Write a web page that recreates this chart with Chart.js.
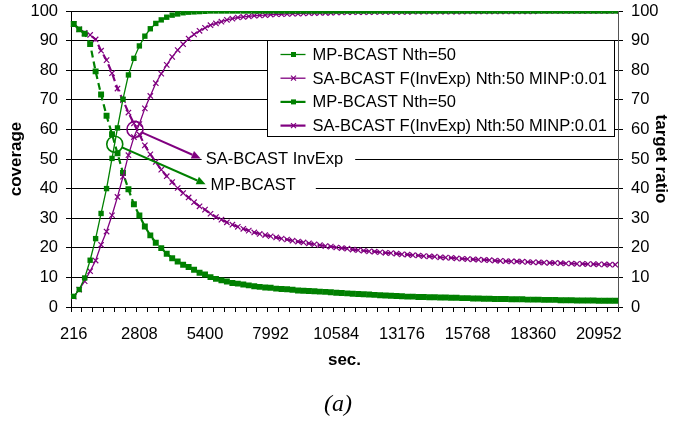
<!DOCTYPE html>
<html>
<head>
<meta charset="utf-8">
<script src="https://cdn.jsdelivr.net/npm/chart.js@4.4.1/dist/chart.umd.min.js"></script>
<style>
  html, body { margin: 0; padding: 0; background: #fff; }
  canvas { display: block; }
</style>
</head>
<body>
<canvas id="myChart" width="673" height="423"></canvas>
<script>
// seconds on the category axis
const categories = [
  216, 432, 648, 864, 1080, 1296, 1512, 1728, 1944, 2160,
  2376, 2592, 2808, 3024, 3240, 3456, 3672, 3888, 4104, 4320,
  4536, 4752, 4968, 5184, 5400, 5616, 5832, 6048, 6264, 6480,
  6696, 6912, 7128, 7344, 7560, 7776, 7992, 8208, 8424, 8640,
  8856, 9072, 9288, 9504, 9720, 9936, 10152, 10368, 10584, 10800,
  11016, 11232, 11448, 11664, 11880, 12096, 12312, 12528, 12744, 12960,
  13176, 13392, 13608, 13824, 14040, 14256, 14472, 14688, 14904, 15120,
  15336, 15552, 15768, 15984, 16200, 16416, 16632, 16848, 17064, 17280,
  17496, 17712, 17928, 18144, 18360, 18576, 18792, 19008, 19224, 19440,
  19656, 19872, 20088, 20304, 20520, 20736, 20952, 21168, 21384, 21600,
];

const tickLabels = ["216", "2808", "5400", "7992", "10584", "13176", "15768", "18360", "20952"];

// coverage (left axis)
const coverageMP = [
  3.6, 5.9, 9.8, 15.8, 23.1, 31.6, 40.0, 50.2, 60.5, 70.2,
  78.4, 84.0, 88.2, 91.5, 94.0, 95.8, 97.0, 97.9, 98.6, 99.0,
  99.4, 99.6, 99.7, 99.8, 99.9, 100, 100, 100, 100, 100,
  100, 100, 100, 100, 100, 100, 100, 100, 100, 100,
  100, 100, 100, 100, 100, 100, 100, 100, 100, 100,
  100, 100, 100, 100, 100, 100, 100, 100, 100, 100,
  100, 100, 100, 100, 100, 100, 100, 100, 100, 100,
  100, 100, 100, 100, 100, 100, 100, 100, 100, 100,
  100, 100, 100, 100, 100, 100, 100, 100, 100, 100,
  100, 100, 100, 100, 100, 100, 100, 100, 100, 100,
];

const coverageSA = [
  3.5, 5.9, 8.7, 12.1, 15.7, 21.0, 25.5, 31.0, 37.2, 44.0,
  51.3, 57.4, 61.8, 67.1, 71.3, 75.6, 78.8, 81.8, 84.5, 86.8,
  88.8, 90.7, 92.1, 93.3, 94.3, 95.2, 95.8, 96.4, 97.0, 97.4,
  97.8, 98.0, 98.2, 98.4, 98.5, 98.6, 98.8, 98.9, 98.9, 99.0,
  99.1, 99.1, 99.2, 99.3, 99.3, 99.4, 99.4, 99.4, 99.5, 99.5,
  99.6, 99.6, 99.6, 99.6, 99.6, 99.7, 99.7, 99.7, 99.7, 99.7,
  99.7, 99.7, 99.8, 99.8, 99.8, 99.8, 99.8, 99.8, 99.8, 99.8,
  99.8, 99.8, 99.9, 99.9, 99.9, 99.9, 99.9, 99.9, 99.9, 99.9,
  99.9, 99.9, 99.9, 99.9, 99.9, 100, 100, 100, 100, 100,
  100, 100, 100, 100, 100, 100, 100, 100, 100, 100,
];

// target ratio (right axis)
const targetMP = [
  95.6, 93.8, 92.3, 88.8, 79.6, 71.8, 64.6, 58.4, 51.9, 45.3,
  39.8, 34.7, 30.9, 27.2, 24.2, 21.7, 19.9, 18.0, 16.5, 15.4,
  14.3, 13.5, 12.6, 11.6, 11.0, 10.1, 9.5, 9.0, 8.6, 8.1,
  7.9, 7.6, 7.3, 7.0, 6.8, 6.6, 6.5, 6.2, 6.1, 6.0,
  5.8, 5.6, 5.5, 5.4, 5.3, 5.2, 5.1, 5.0, 4.8, 4.7,
  4.6, 4.5, 4.4, 4.3, 4.2, 4.1, 4.0, 3.9, 3.8, 3.7,
  3.6, 3.5, 3.5, 3.4, 3.4, 3.3, 3.3, 3.2, 3.2, 3.1,
  3.1, 3.0, 3.0, 2.9, 2.9, 2.8, 2.8, 2.7, 2.7, 2.7,
  2.6, 2.6, 2.6, 2.5, 2.5, 2.5, 2.4, 2.4, 2.4, 2.3,
  2.3, 2.3, 2.2, 2.2, 2.2, 2.2, 2.1, 2.1, 2.1, 2.1,
];

const targetSA = [
  95.6, 93.8, 92.6, 91.9, 90.4, 86.6, 83.4, 79.0, 73.8, 69.9,
  65.7, 62.0, 58.3, 54.6, 51.6, 49.0, 46.4, 44.2, 42.2, 40.2,
  38.5, 37.0, 35.4, 34.0, 32.9, 31.5, 30.4, 29.5, 28.6, 27.8,
  27.1, 26.4, 25.8, 25.2, 24.7, 24.3, 23.9, 23.5, 23.1, 22.8,
  22.4, 22.1, 21.8, 21.5, 21.2, 20.9, 20.6, 20.4, 20.1, 19.9,
  19.7, 19.4, 19.2, 19.0, 18.8, 18.7, 18.5, 18.3, 18.2, 18.0,
  17.8, 17.7, 17.5, 17.4, 17.2, 17.1, 17.0, 16.8, 16.7, 16.6,
  16.4, 16.3, 16.2, 16.1, 16.0, 15.9, 15.8, 15.7, 15.6, 15.5,
  15.4, 15.4, 15.3, 15.2, 15.1, 15.1, 15.0, 14.9, 14.9, 14.8,
  14.7, 14.7, 14.6, 14.6, 14.5, 14.5, 14.4, 14.4, 14.3, 14.3,
];

const GREEN = "#008000";
const PURPLE = "#800080";
const FONT = "Liberation Sans";

// callouts: circle at [categoryIndex, value], arrow tip at [categoryIndex, value]
const callouts = [
  { text: "SA-BCAST InvExp", color: PURPLE, at: [11.2, 60], tip: [23.2, 50.2], boxExtra: 12 },
  { text: "MP-BCAST", color: GREEN, at: [7.5, 55], tip: [24.1, 41.5], boxExtra: 20 },
];

Chart.defaults.font.family = FONT;
Chart.defaults.color = "#000";

const boxLegend = {
  id: "boxLegend",
  afterDraw(chart) {
    const ctx = chart.ctx;
    const area = chart.chartArea;
    const x0 = area.left + 196.5, y0 = area.top + 29.5, w = 347, h = 96;
    ctx.save();
    ctx.fillStyle = "#fff";
    ctx.fillRect(x0, y0, w, h);
    ctx.strokeStyle = "#000";
    ctx.lineWidth = 1;
    ctx.strokeRect(x0, y0, w, h);
    chart.data.datasets.forEach((ds, i) => {
      const y = y0 + 14 + i * 23.7;
      ctx.strokeStyle = ds.borderColor;
      ctx.lineWidth = ds.borderWidth;
      ctx.beginPath();
      ctx.moveTo(x0 + 13, y);
      ctx.lineTo(x0 + 38, y);
      ctx.stroke();
      ctx.fillStyle = ds.borderColor;
      if (ds.pointStyle === "rect") {
        ctx.fillRect(x0 + 23.5, y - 2.5, 5, 5);
      } else {
        ctx.lineWidth = 1.2;
        ctx.beginPath();
        ctx.moveTo(x0 + 23.5, y - 2.5); ctx.lineTo(x0 + 28.5, y + 2.5);
        ctx.moveTo(x0 + 28.5, y - 2.5); ctx.lineTo(x0 + 23.5, y + 2.5);
        ctx.stroke();
      }
      ctx.fillStyle = "#000";
      ctx.font = "16.5px " + FONT;
      ctx.textBaseline = "middle";
      ctx.fillText(ds.label, x0 + 45, y + 1);
    });
    ctx.restore();
  },
};

const calloutPlugin = {
  id: "callouts",
  afterDraw(chart) {
    const ctx = chart.ctx;
    const xs = chart.scales.x, ys = chart.scales.y;
    ctx.save();
    callouts.forEach((c) => {
      const cx = xs.getPixelForValue(c.at[0]), cy = ys.getPixelForValue(c.at[1]);
      const tx = xs.getPixelForValue(c.tip[0]), ty = ys.getPixelForValue(c.tip[1]);
      const r = 8;
      const len = Math.hypot(tx - cx, ty - cy);
      const ux = (tx - cx) / len, uy = (ty - cy) / len;
      // text with white box
      ctx.font = "16.5px " + FONT;
      const tw = ctx.measureText(c.text).width;
      ctx.fillStyle = "#fff";
      ctx.fillRect(tx + 1, ty - 9, tw + 4 + c.boxExtra, 19);
      ctx.fillStyle = "#000";
      ctx.textBaseline = "middle";
      ctx.fillText(c.text, tx + 5, ty + 1);
      // circle
      ctx.strokeStyle = c.color;
      ctx.lineWidth = 1.6;
      ctx.beginPath();
      ctx.arc(cx, cy, r, 0, Math.PI * 2);
      ctx.stroke();
      // arrow
      const hx = tx - ux * 9, hy = ty - uy * 9;
      ctx.lineWidth = 2;
      ctx.beginPath();
      ctx.moveTo(cx + ux * r, cy + uy * r);
      ctx.lineTo(hx, hy);
      ctx.stroke();
      ctx.fillStyle = c.color;
      ctx.beginPath();
      ctx.moveTo(tx, ty);
      ctx.lineTo(hx - uy * 4, hy + ux * 4);
      ctx.lineTo(hx + uy * 4, hy - ux * 4);
      ctx.closePath();
      ctx.fill();
    });
    ctx.restore();
  },
};

const caption = {
  id: "caption",
  afterDraw(chart) {
    const ctx = chart.ctx;
    ctx.save();
    ctx.font = "italic 24px 'Liberation Serif'";
    ctx.fillStyle = "#000";
    ctx.textAlign = "center";
    ctx.textBaseline = "middle";
    ctx.fillText("(a)", 338, 405);
    ctx.restore();
  },
};

const tickFont = { size: 16.5 };
const titleFont = { size: 17, weight: "bold" };

// keep the plot box fixed: no extra room for half labels at the ends
function noEdgePadding(s) {
  s.paddingTop = 0;
  s.paddingBottom = 0;
  s.paddingLeft = 0;
  s.paddingRight = 0;
}

new Chart(document.getElementById("myChart"), {
  type: "line",
  data: {
    labels: categories,
    datasets: [
      {
        label: "MP-BCAST Nth=50",
        data: coverageMP,
        yAxisID: "y",
        borderColor: GREEN,
        backgroundColor: GREEN,
        borderWidth: 1.3,
        pointStyle: "rect",
        pointRadius: 3.8,
        pointBorderWidth: 0,
      },
      {
        label: "SA-BCAST F(InvExp) Nth:50 MINP:0.01",
        data: coverageSA,
        yAxisID: "y",
        borderColor: PURPLE,
        backgroundColor: PURPLE,
        borderWidth: 1.3,
        pointStyle: "crossRot",
        pointRadius: 3.8,
        pointBorderWidth: 1.2,
      },
      {
        label: "MP-BCAST Nth=50",
        data: targetMP,
        yAxisID: "y2",
        borderColor: GREEN,
        backgroundColor: GREEN,
        borderWidth: 2.2,
        borderDash: [7, 4],
        pointStyle: "rect",
        pointRadius: 4.2,
        pointBorderWidth: 0,
      },
      {
        label: "SA-BCAST F(InvExp) Nth:50 MINP:0.01",
        data: targetSA,
        yAxisID: "y2",
        borderColor: PURPLE,
        backgroundColor: PURPLE,
        borderWidth: 2.2,
        borderDash: [7, 4],
        pointStyle: "crossRot",
        pointRadius: 3.8,
        pointBorderWidth: 1.2,
      },
    ],
  },
  options: {
    responsive: false,
    animation: false,
    layout: { padding: { top: 11, left: 0, right: 0, bottom: 0 } },
    plugins: {
      legend: { display: false },
      tooltip: { enabled: false },
    },
    scales: {
      x: {
        offset: true,
        grid: {
          offset: true,
          drawOnChartArea: false,
          tickLength: 5,
          color: (c) => (c.index === undefined || c.index % 2 === 0 ? "#000" : "rgba(0,0,0,0)"),
        },
        border: { color: "#000" },
        ticks: {
          autoSkip: false,
          maxRotation: 0,
          minRotation: 0,
          padding: 13,
          font: tickFont,
          callback: (v, i) => (tickLabels.includes(String(categories[i])) ? String(categories[i]) : ""),
        },
        title: { display: true, text: "sec.", font: titleFont, padding: { top: 0, bottom: 52 } },
        afterFit: (s) => { noEdgePadding(s); s.height = 116; },
      },
      y: {
        position: "left",
        min: 0,
        max: 100,
        grid: { color: "#000", tickLength: 5 },
        border: { color: "#000" },
        ticks: { stepSize: 10, padding: 8, font: tickFont },
        title: { display: true, text: "coverage", font: titleFont, padding: { top: 6, bottom: 0 } },
        afterFit: (s) => { noEdgePadding(s); s.width = 71; },
      },
      y2: {
        position: "right",
        min: 0,
        max: 100,
        grid: { drawOnChartArea: false, color: "#000", tickLength: 5 },
        border: { color: "#555" },
        ticks: { stepSize: 10, padding: 8, font: tickFont },
        title: { display: true, text: "target ratio", font: titleFont, padding: { top: 2, bottom: 0 } },
        afterFit: (s) => { noEdgePadding(s); s.width = 55; },
      },
    },
  },
  plugins: [boxLegend, calloutPlugin, caption],
});
</script>
</body>
</html>
